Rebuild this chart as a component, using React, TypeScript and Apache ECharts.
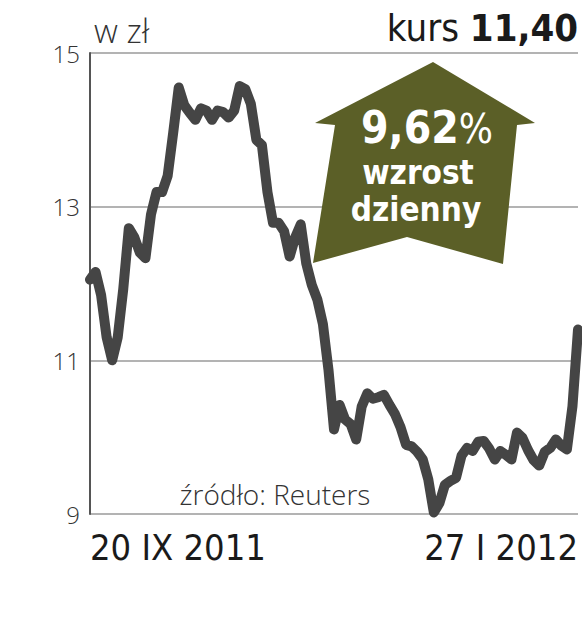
import React, { useEffect, useRef } from 'react';
import * as echarts from 'echarts';

// Daily closing price, 20 IX 2011 – 27 I 2012 (PLN)
const prices = [
  12.05, 12.15, 11.85, 11.3, 11.0, 11.3, 11.93, 12.72, 12.6, 12.4,
  12.33, 12.9, 13.19, 13.19, 13.4, 13.96, 14.55, 14.32, 14.22, 14.13,
  14.28, 14.25, 14.13, 14.25, 14.23, 14.16, 14.25, 14.57, 14.53, 14.34,
  13.87, 13.8, 13.19, 12.79, 12.79, 12.68, 12.35, 12.6, 12.77, 12.26,
  11.98, 11.79, 11.47, 10.88, 10.1, 10.42, 10.23, 10.17, 9.97, 10.4,
  10.57, 10.5, 10.52, 10.55, 10.42, 10.3, 10.13, 9.9, 9.88, 9.81,
  9.71, 9.45, 9.02, 9.14, 9.38, 9.43, 9.47, 9.76, 9.86, 9.82,
  9.94, 9.95, 9.85, 9.71, 9.82, 9.77, 9.71, 10.06, 9.99, 9.83,
  9.7, 9.63, 9.81, 9.86, 9.97, 9.89, 9.84, 10.4, 11.4,
];
const dateLabels = ['20 IX 2011', '27 I 2012'];
const yTicks = [9, 11, 13, 15];
const unitLabel = 'w zł';
const priceCaption = 'kurs';
const lastPrice = '11,40';
const changeValue = '9,62';
const changeLines = ['wzrost', 'dzienny'];
const sourceText = 'źródło: Reuters';

const NARROW = '"Liberation Sans Narrow", "DejaVu Sans Condensed", "Roboto", sans-serif';
const COND = '"DejaVu Sans Condensed", "Liberation Sans Narrow", sans-serif';
const LIGHT = '"Open Sans", "Roboto", sans-serif';

export default function App() {
  const ref = useRef<HTMLDivElement>(null);
  useEffect(() => {
    document.body.style.margin = '0';
    const chart = echarts.init(ref.current!, null, { renderer: 'svg' });
    const categories = prices.map((_, i) => String(i));
    const last = prices.length - 1;
    chart.setOption({
      animation: false,
      backgroundColor: '#ffffff',
      grid: { left: 90, right: 4, top: 53, bottom: 126, containLabel: false },
      xAxis: {
        type: 'category',
        data: categories,
        boundaryGap: false,
        axisLine: { show: false },
        axisTick: { show: false },
        splitLine: { show: false },
        axisLabel: {
          interval: 0,
          formatter: (_v: string, i: number) =>
            i === 0 ? dateLabels[0] : i === last ? dateLabels[1] : '',
          alignMinLabel: 'left',
          alignMaxLabel: 'right',
          margin: 15,
          fontFamily: NARROW,
          fontSize: 36,
          color: '#1a1a1a',
        },
      },
      yAxis: {
        type: 'value',
        min: 9,
        max: 15,
        interval: 1,
        axisLine: { show: true, lineStyle: { color: '#555555', width: 2 } },
        axisTick: { show: false },
        splitLine: {
          show: true,
          lineStyle: { color: ['#9a9a9a', 'rgba(0,0,0,0)'], width: 1.5 },
        },
        axisLabel: {
          formatter: (v: number) => (yTicks.includes(v) ? String(v) : ''),
          margin: 10,
          fontFamily: LIGHT,
          fontWeight: 300,
          fontSize: 24,
          color: '#333333',
        },
      },
      series: [
        {
          type: 'line',
          data: prices,
          symbol: 'none',
          z: 3,
          lineStyle: { color: '#454545', width: 10, cap: 'round', join: 'round' },
        },
      ],
      graphic: [
        {
          type: 'polygon',
          z: 10,
          shape: {
            points: [
              [433, 62], [535, 123], [517, 125], [503, 264],
              [407, 237], [313, 263], [335, 125], [315, 123],
            ],
          },
          style: { fill: '#5b5f27' },
        },
        {
          type: 'text', z: 11, x: 427, y: 127,
          style: {
            text: `{n|${changeValue}}{p|%}`,
            align: 'center', verticalAlign: 'middle',
            rich: {
              n: { fontFamily: COND, fontWeight: 'bold', fontSize: 44, fill: '#ffffff', verticalAlign: 'bottom' },
              p: { fontFamily: COND, fontWeight: 'normal', fontSize: 40, fill: '#ffffff', verticalAlign: 'bottom' },
            },
          },
        },
        {
          type: 'text', z: 11, x: 418, y: 172,
          style: {
            text: changeLines[0], align: 'center', verticalAlign: 'middle',
            fontFamily: COND, fontWeight: 'bold', fontSize: 33, fill: '#ffffff',
          },
        },
        {
          type: 'text', z: 11, x: 416, y: 209,
          style: {
            text: changeLines[1], align: 'center', verticalAlign: 'middle',
            fontFamily: COND, fontWeight: 'bold', fontSize: 33, fill: '#ffffff',
          },
        },
        {
          type: 'text', z: 11, x: 94, y: 30,
          style: {
            text: unitLabel, align: 'left', verticalAlign: 'middle',
            fontFamily: LIGHT, fontWeight: 300, fontSize: 33, fill: '#333333',
          },
        },
        {
          type: 'text', z: 11, x: 578, y: 28,
          style: {
            text: `{a|${priceCaption} }{b|${lastPrice}}`,
            align: 'right', verticalAlign: 'middle',
            rich: {
              a: { fontFamily: NARROW, fontWeight: 'normal', fontSize: 38, fill: '#1a1a1a', verticalAlign: 'bottom' },
              b: { fontFamily: NARROW, fontWeight: 'bold', fontSize: 38, fill: '#1a1a1a', verticalAlign: 'bottom' },
            },
          },
        },
        {
          type: 'text', z: 11, x: 275, y: 494,
          style: {
            text: sourceText, align: 'center', verticalAlign: 'middle',
            fontFamily: LIGHT, fontWeight: 300, fontSize: 28, fill: '#333333',
          },
        },
      ],
    });
    return () => chart.dispose();
  }, []);
  return (
    <div
      ref={ref}
      style={{ position: 'absolute', left: 0, top: 0, width: 582, height: 640 }}
    />
  );
}
